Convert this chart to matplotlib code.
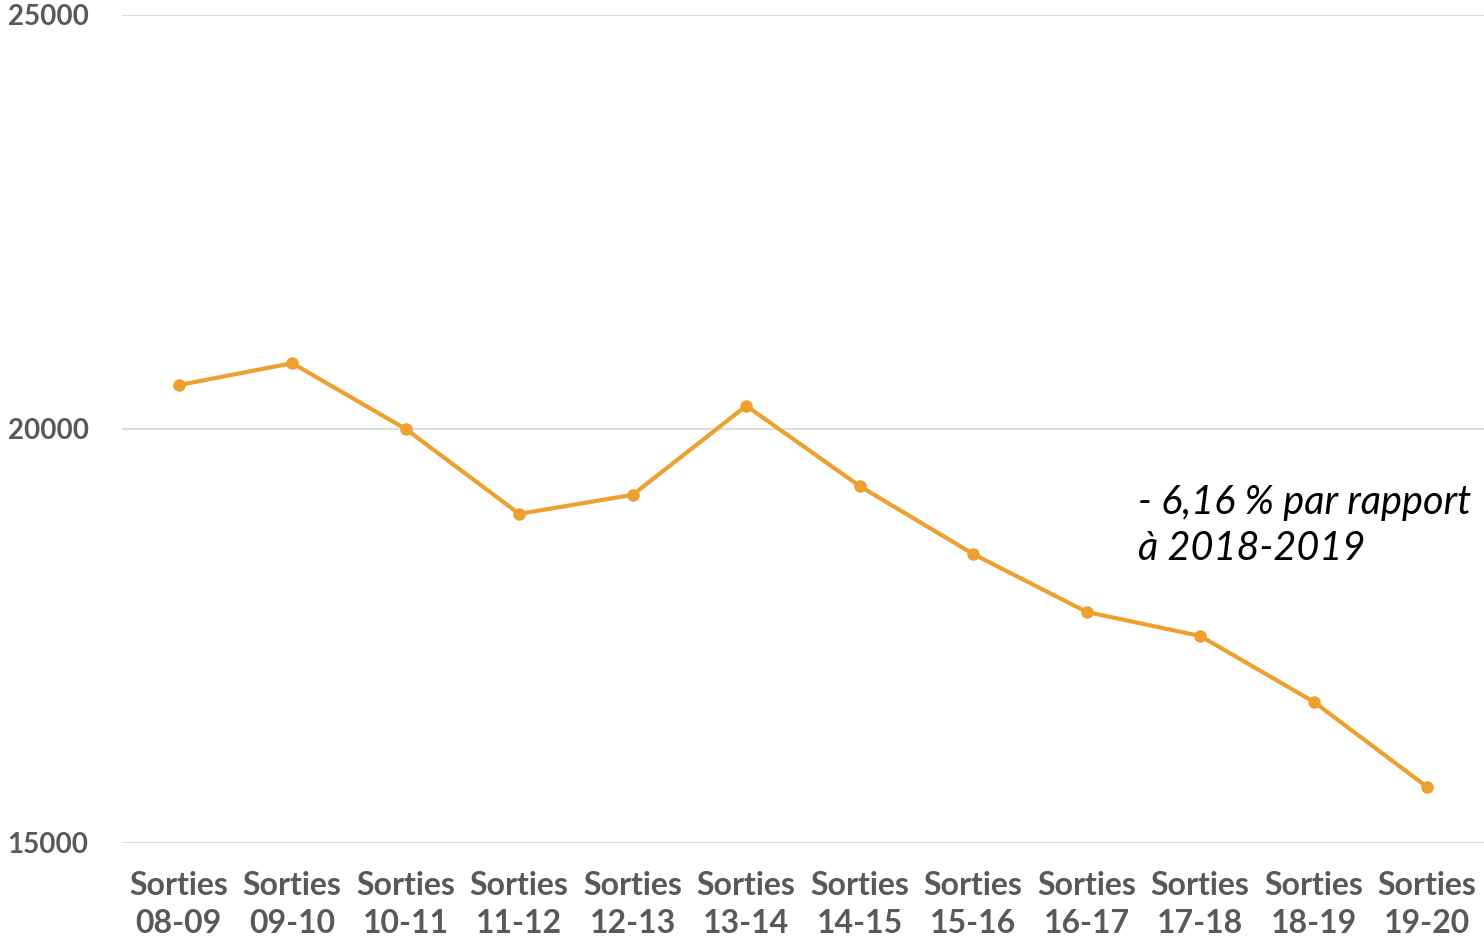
import matplotlib.pyplot as plt

# Data
periods = ['08-09', '09-10', '10-11', '11-12', '12-13', '13-14',
           '14-15', '15-16', '16-17', '17-18', '18-19', '19-20']
sorties = [20530, 20795, 20000, 18975, 19205, 20280,
           19310, 18490, 17790, 17500, 16705, 15675]
labels = ['Sorties\n' + p for p in periods]

fig = plt.figure(figsize=(14.84, 9.49), dpi=100)
ax = fig.add_axes([0.0822, 0.1117, 0.9178, 0.8725])

x = list(range(len(sorties)))
ax.plot(x, sorties, color='#EDA02E', linewidth=3, marker='o',
        markersize=8, zorder=3, clip_on=False)

ax.set_xlim(-0.5, len(sorties) - 0.5)
ax.set_ylim(15000, 25000)
ax.set_yticks([15000, 20000, 25000])
ax.set_xticks(x)
ax.set_xticklabels(labels)

ax.grid(axis='y', color='#D9D9D9', linewidth=1.3)
ax.set_axisbelow(True)
for s in ax.spines.values():
    s.set_visible(False)
ax.tick_params(axis='both', length=0)
ax.tick_params(axis='y', pad=24, labelsize=20, labelcolor='#595959')
ax.tick_params(axis='x', pad=20, labelsize=23, labelcolor='#595959')
for t in ax.get_xticklabels() + ax.get_yticklabels():
    t.set_fontfamily('Lato')
    t.set_fontweight('bold')
for t in ax.get_xticklabels():
    t.set_linespacing(1.4)

ax.text(8.45, 19340, '- 6,16 % par rapport\nà 2018-2019', fontsize=28.5,
        style='italic', family='Lato', color='black', va='top', ha='left',
        linespacing=1.3)

fig.savefig('out.png', dpi=100)
